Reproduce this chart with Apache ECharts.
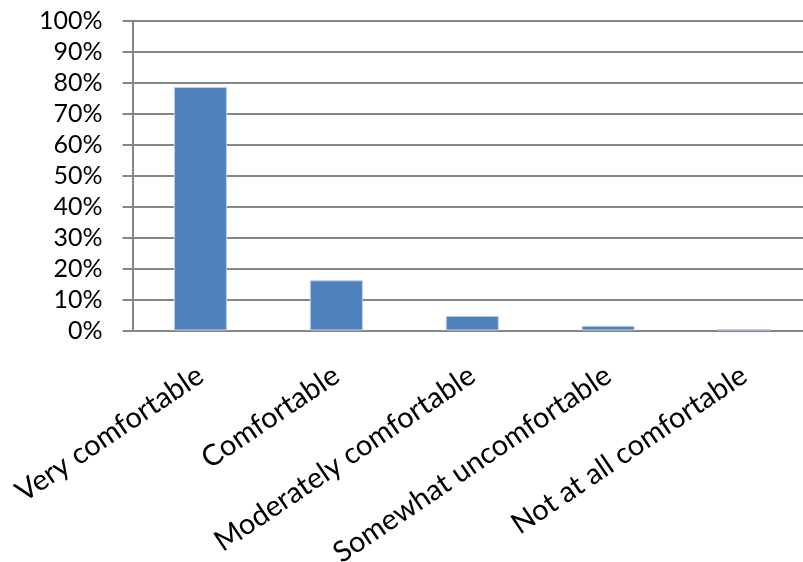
<!DOCTYPE html>
<html>
<head>
<meta charset="utf-8">
<script src="https://cdn.jsdelivr.net/npm/echarts@6/dist/echarts.min.js"></script>
<style>
  html, body { margin: 0; padding: 0; background: #fff; }
  #chart { width: 803px; height: 562px; }
</style>
</head>
<body>
<div id="chart"></div>
<script>
// Comfort level responses (share of respondents, %)
const categories = [
  'Very comfortable',
  'Comfortable',
  'Moderately comfortable',
  'Somewhat uncomfortable',
  'Not at all comfortable'
];
const shares = [78.6, 16.2, 4.7, 1.5, 0.4];
const yTicks = [0, 10, 20, 30, 40, 50, 60, 70, 80, 90, 100];

const FONT = 'Lato, "Open Sans", sans-serif';
const AXIS_GREY = '#868686';

const chart = echarts.init(document.getElementById('chart'), null, { renderer: 'canvas' });
chart.setOption({
  backgroundColor: '#ffffff',
  animation: false,
  grid: {
    left: 132.5, right: -9, top: 20.7, bottom: 562 - 330.5,
    containLabel: false,
    outerBoundsMode: 'none'
  },
  xAxis: {
    type: 'category',
    data: categories,
    axisLine: { show: true, lineStyle: { color: AXIS_GREY, width: 2 } },
    axisTick: { show: false },
    axisLabel: {
      interval: 0,
      rotate: 34,
      margin: 42,
      color: '#000',
      fontFamily: FONT,
      fontSize: 29
    },
    splitLine: { show: false }
  },
  yAxis: {
    type: 'value',
    min: yTicks[0],
    max: yTicks[yTicks.length - 1],
    interval: 10,
    axisLine: { show: true, lineStyle: { color: AXIS_GREY, width: 2 } },
    axisTick: { show: true, length: 10, lineStyle: { color: AXIS_GREY, width: 2 } },
    axisLabel: {
      margin: 30,
      color: '#000',
      fontFamily: FONT,
      fontSize: 25,
      formatter: v => v + '%'
    },
    splitLine: { show: true, lineStyle: { color: AXIS_GREY, width: 2 } }
  },
  series: [{
    type: 'bar',
    data: shares,
    barWidth: 53,
    itemStyle: { color: '#4F81BD', borderColor: '#B9CDE5', borderWidth: 1 }
  }]
});
</script>
</body>
</html>
